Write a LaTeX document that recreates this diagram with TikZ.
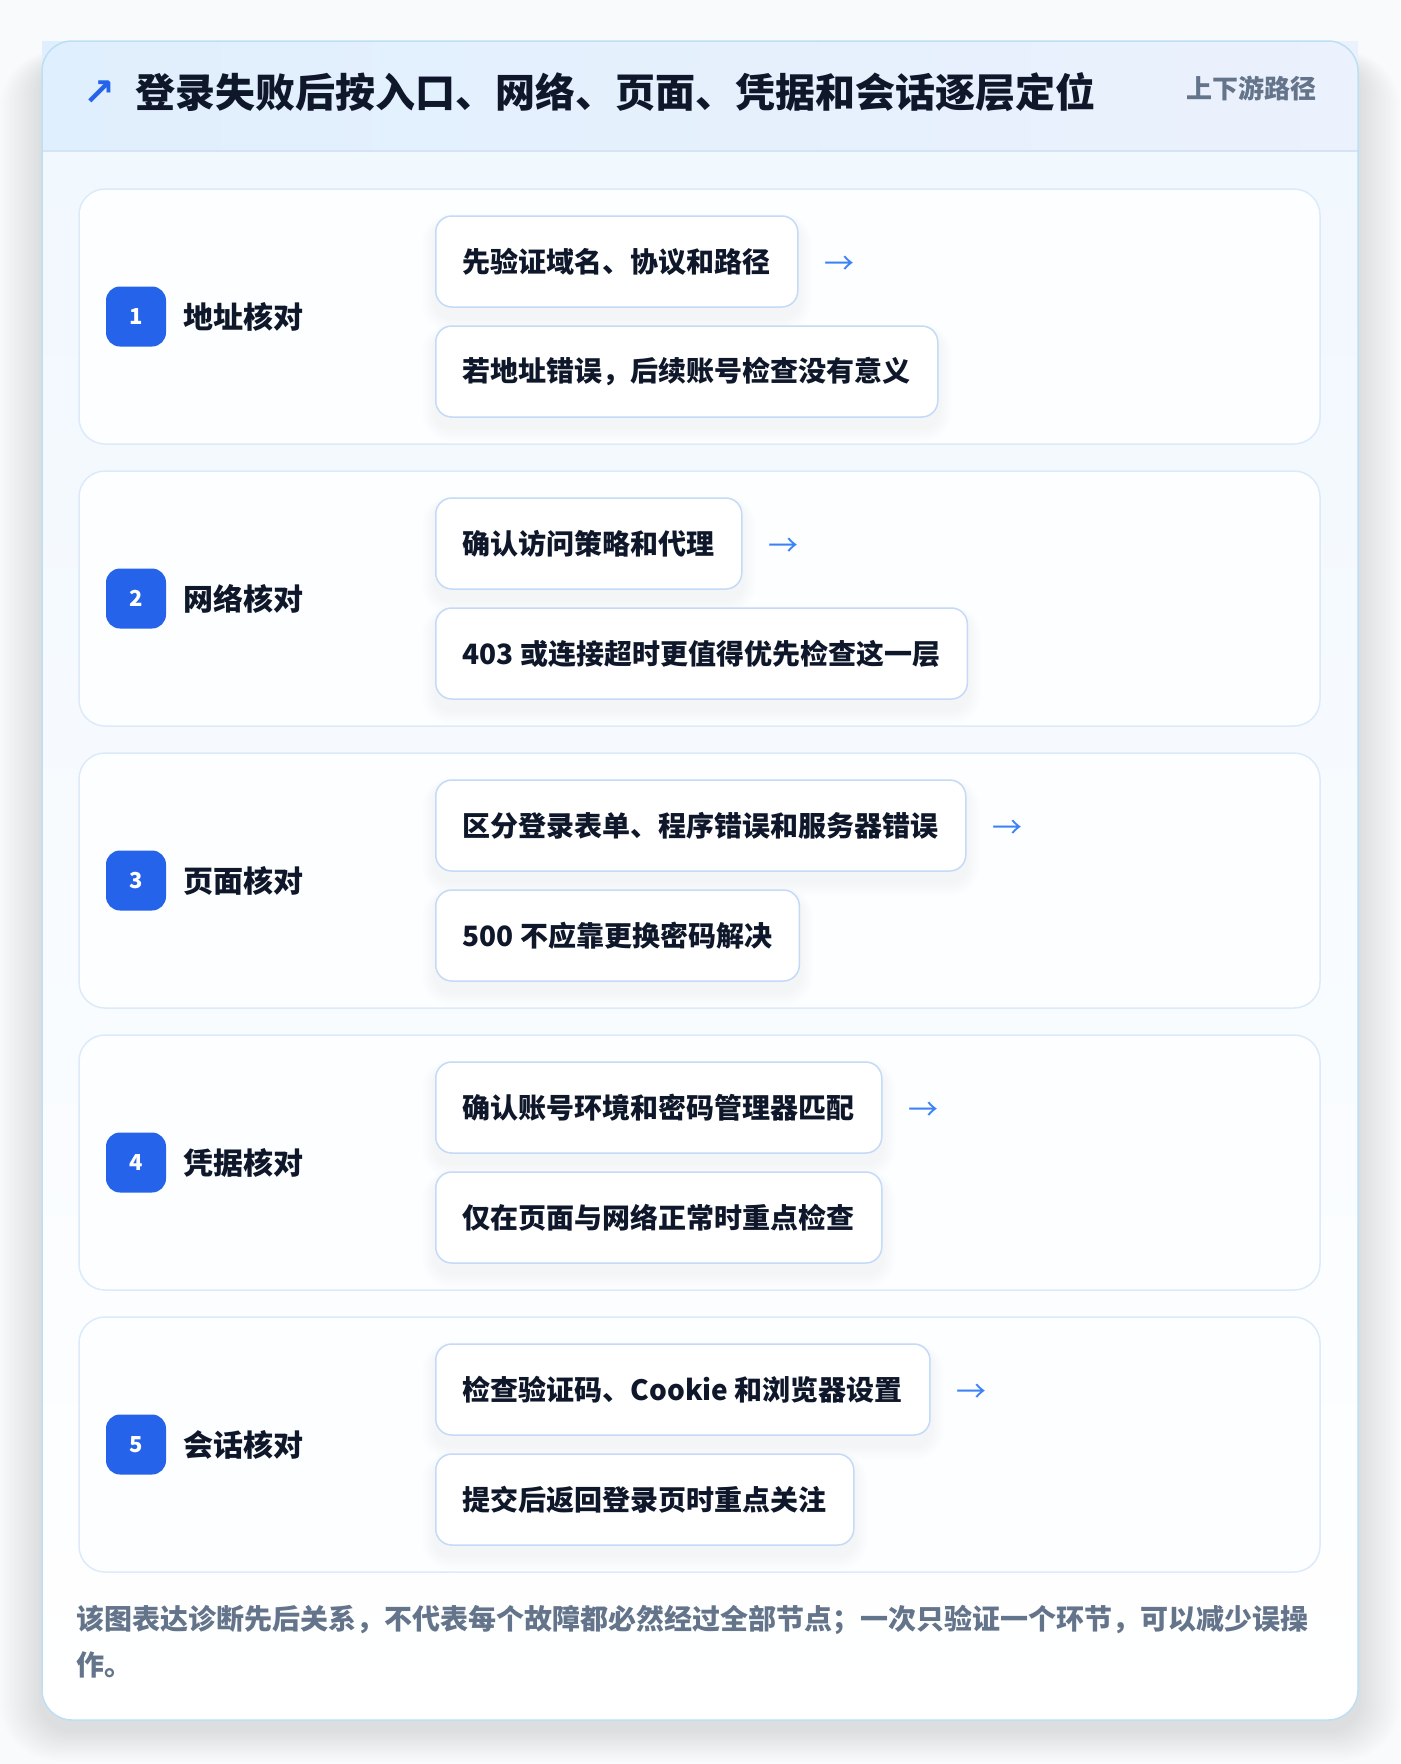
\documentclass[tikz,border=0pt]{standalone}
\usepackage{fontspec}
\setmainfont{Noto Sans CJK SC}
\newfontfamily\symfont{DejaVu Sans}
\usetikzlibrary{calc}
\definecolor{ink}{HTML}{0F172A}
\definecolor{muted}{HTML}{64748B}
\definecolor{badgeblue}{HTML}{2563EB}
\definecolor{arrowblue}{HTML}{3B82F6}
\definecolor{itemborder}{HTML}{C4DAF6}
\definecolor{rowborder}{HTML}{DCEAFA}
\definecolor{cardborder}{HTML}{BCDFF4}
\definecolor{hdrL}{HTML}{E0EFFD}
\definecolor{hdrR}{HTML}{EBF1FD}
\definecolor{hdrline}{HTML}{D4E4F6}
\definecolor{cardtop}{HTML}{F0F7FE}
\definecolor{pagebg}{HTML}{F9FAFB}
\definecolor{rowfill}{HTML}{FDFEFF}
\pgfdeclarelayer{back}
\pgfdeclarelayer{shad}
\pgfsetlayers{back,shad,main}
\tikzset{
  itembox/.style={draw=itemborder, line width=1.5pt, fill=white, rounded corners=16pt,
    anchor=west, minimum height=91pt, inner xsep=27pt, inner ysep=0pt, text=ink,
    font=\fontsize{28}{34}\selectfont\bfseries},
  badgebox/.style={fill=badgeblue, rounded corners=14pt, minimum size=60pt, inner sep=0pt,
    text=white, font=\fontsize{22}{26}\selectfont\bfseries},
  rowlabel/.style={anchor=west, inner sep=0pt, text=ink, font=\fontsize{30}{36}\selectfont\bfseries},
  nextarrow/.style={inner sep=0pt, text=arrowblue, font=\fontsize{30}{36}\selectfont},
  rowcard/.style={draw=rowborder, line width=1.5pt, fill=rowfill, rounded corners=26pt},
}
\begin{document}
\begin{tikzpicture}[x=1pt,y=-1pt]
\useasboundingbox (0,0) rectangle (1400,1764);
\begin{pgfonlayer}{back}
  \fill[pagebg] (0,0) rectangle (1400,1764);
  \foreach \k in {1,...,14}{
    \pgfmathsetmacro\rr{30+2*\k}
    \fill[black,opacity=0.006,rounded corners=\rr pt] (42-3*\k,62-0.8*\k) rectangle (1358+3*\k,1730+2.2*\k);
  }
  \shade[top color=cardtop, bottom color=white, rounded corners=30pt] (42,41) rectangle (1358,1720);
  \shade[left color=hdrL, right color=hdrR] (42,41) rectangle (1358,151);
  \draw[hdrline, line width=1.5pt] (42,151) -- (1358,151);
  \draw[cardborder, line width=1.5pt, rounded corners=30pt] (42,41) rectangle (1358,1720);
  \foreach \i in {1,...,5}{
    \pgfmathsetmacro\ry{189+282*(\i-1)}
    \path[rowcard] (79,\ry) rectangle (1320,\ry+255);
  }
\end{pgfonlayer}

\node[inner sep=0pt, text=badgeblue, font=\symfont\bfseries\fontsize{38}{44}\selectfont] (titlearrow) at (99.5,93) {↗};
\node[anchor=west, inner sep=0pt, text=ink, font=\fontsize{40}{48}\selectfont\bfseries] (title) at (135,92) {登录失败后按入口、网络、页面、凭据和会话逐层定位};
\node[anchor=east, inner sep=0pt, text=muted, font=\fontsize{26}{32}\selectfont\bfseries] (tag) at (1317,88) {上下游路径};

\foreach \i/\lab/\ta/\tb in {
  1/地址核对/先验证域名、协议和路径/若地址错误，后续账号检查没有意义,
  2/网络核对/确认访问策略和代理/403 或连接超时更值得优先检查这一层,
  3/页面核对/区分登录表单、程序错误和服务器错误/500 不应靠更换密码解决,
  4/凭据核对/确认账号环境和密码管理器匹配/仅在页面与网络正常时重点检查,
  5/会话核对/检查验证码、Cookie 和浏览器设置/提交后返回登录页时重点关注}{
  \pgfmathsetmacro\ry{189+282*(\i-1)}
  \node[badgebox] (b\i) at (136,\ry+127.5) {\i};
  \node[rowlabel] (l\i) at (183,\ry+127.5) {\lab};
  \node[itembox] (i\i a) at (435,\ry+72.5) {\ta};
  \node[itembox] (i\i b) at (435,\ry+182.5) {\tb};
  \node[nextarrow] (a\i) at ($(i\i a.east)+(41,4)$) {→};
  \begin{pgfonlayer}{shad}
    \foreach \n in {i\i a, i\i b}{
      \foreach \k in {1,...,9}{
        \pgfmathsetmacro\rr{16+1.5*\k}
        \fill[black,opacity=0.0055,rounded corners=\rr pt]
          ($(\n.south west)+(-1.5*\k,10+1.6*\k)$) rectangle ($(\n.north east)+(1.5*\k,6-0.8*\k)$);
      }
    }
  \end{pgfonlayer}
}

\node[anchor=north west, inner sep=0pt, align=left, text=muted, font=\fontsize{28}{46}\selectfont\bfseries] (footnote) at (76,1605)
  {该图表达诊断先后关系，不代表每个故障都必然经过全部节点；一次只验证一个环节，可以减少误操\\作。};
\end{tikzpicture}
\end{document}
